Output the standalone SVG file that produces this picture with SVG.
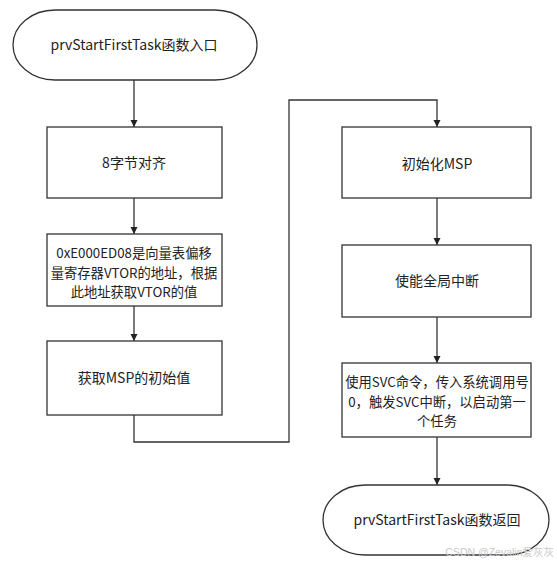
<svg xmlns="http://www.w3.org/2000/svg" width="557" height="564" viewBox="0 0 557 564">
<style>
.box{fill:#fff;stroke:#333;stroke-width:1.3}
.term{fill:#fff;stroke:#333;stroke-width:1.3}
.t{font-family:"Noto Sans CJK SC","Liberation Sans",sans-serif;font-size:14px;fill:#222;text-anchor:middle}
.s{font-size:13.3px}
.c{fill:none;stroke:#333;stroke-width:1.3}
.wm{font-family:"Liberation Sans","Noto Sans CJK SC",sans-serif;font-size:10.5px;fill:#c8c8c8;text-anchor:end}
</style>
<defs>
<marker id="ah" markerWidth="8" markerHeight="8" refX="7" refY="4" orient="auto" markerUnits="userSpaceOnUse">
<path d="M0,0.5 L7,4 L0,7.5 Z" fill="#222"/>
</marker>
</defs>
<rect width="557" height="564" fill="#fff"/>
<g id="connectors">
<path class="c" d="M134,80 V127" marker-end="url(#ah)"/>
<path class="c" d="M134,198 V234" marker-end="url(#ah)"/>
<path class="c" d="M134,306 V341" marker-end="url(#ah)"/>
<path class="c" d="M134,415 V442 H289 V100 H437 V127" marker-end="url(#ah)"/>
<path class="c" d="M437,198 V245" marker-end="url(#ah)"/>
<path class="c" d="M437,317 V363" marker-end="url(#ah)"/>
<path class="c" d="M437,437 V485" marker-end="url(#ah)"/>
</g>
<g id="start">
<rect class="term" x="13" y="10" width="244" height="70" rx="42" ry="35"/>
<text class="t" x="134" y="50">prvStartFirstTask函数入口</text>
</g>
<g id="align">
<rect class="box" x="47" y="127" width="175" height="71"/>
<text class="t" x="134" y="168">8字节对齐</text>
</g>
<g id="vtor">
<rect class="box" x="47" y="234" width="175" height="72"/>
<text class="t s" x="134" y="258">0xE000ED08是向量表偏移</text>
<text class="t s" x="134" y="278">量寄存器VTOR的地址，根据</text>
<text class="t s" x="134" y="297">此地址获取VTOR的值</text>
</g>
<g id="getmsp">
<rect class="box" x="47" y="341" width="175" height="74"/>
<text class="t" x="134" y="383">获取MSP的初始值</text>
</g>
<g id="initmsp">
<rect class="box" x="342" y="127" width="189" height="71"/>
<text class="t" x="437" y="169">初始化MSP</text>
</g>
<g id="enableint">
<rect class="box" x="342" y="245" width="189" height="72"/>
<text class="t" x="437" y="286">使能全局中断</text>
</g>
<g id="svc">
<rect class="box" x="342" y="363" width="189" height="74"/>
<text class="t s" x="437" y="387">使用SVC命令，传入系统调用号</text>
<text class="t s" x="437" y="407">0，触发SVC中断，以启动第一</text>
<text class="t s" x="437" y="426">个任务</text>
</g>
<g id="end">
<rect class="term" x="323" y="485" width="226" height="70" rx="42" ry="35"/>
<text class="t" x="437" y="525">prvStartFirstTask函数返回</text>
</g>
<text class="wm" x="554" y="556">CSDN @Zevalin爱灰灰</text>
</svg>
